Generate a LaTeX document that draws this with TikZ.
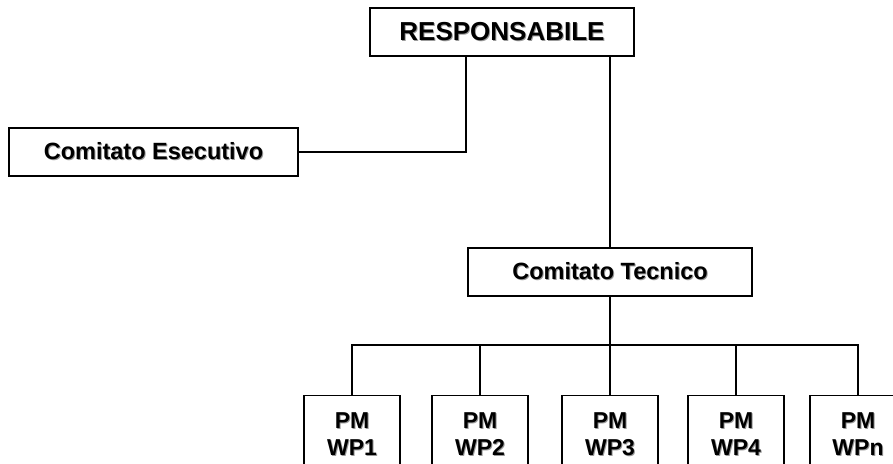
\documentclass[tikz,border=0pt]{standalone}
\usepackage{fontspec}
\setmainfont{Liberation Sans}
\usetikzlibrary{positioning}

\newcommand{\ombra}[1]{\makebox[0pt][l]{\hspace{1pt}\raisebox{-1pt}{\textcolor{black!40}{#1}}}#1}

\begin{document}
\begin{tikzpicture}[x=1pt,y=-1pt,line width=1.2pt,
	box/.style={draw,inner sep=0pt,minimum height=48pt,font=\bfseries\fontsize{23.5}{28}\selectfont},
	pmbox/.style={box,anchor=north,align=center,minimum width=96pt,inner xsep=0pt,inner ysep=17pt,font=\bfseries\fontsize{23}{27}\selectfont}]
	\clip (0,0) rectangle (893,463);
	\node[box,minimum width=264pt,font=\bfseries\fontsize{26}{30}\selectfont] (resp) at (502,32) {\ombra{RESPONSABILE}};
	\node[box,minimum width=289pt] (com_es) at (153.5,152) {\ombra{Comitato Esecutivo}};
	\node[box,minimum width=284pt] (com_tec) at (610,272) {\ombra{Comitato Tecnico}};
	\node[pmbox] (wp_1) at (352,395) {\ombra{PM}\\\ombra{WP1}};
	\node[pmbox] (wp_2) at (480,395) {\ombra{PM}\\\ombra{WP2}};
	\node[pmbox] (wp_3) at (610,395) {\ombra{PM}\\\ombra{WP3}};
	\node[pmbox] (wp_4) at (736,395) {\ombra{PM}\\\ombra{WP4}};
	\node[pmbox] (wp_n) at (858,395) {\ombra{PM}\\\ombra{WPn}};
	\coordinate (bus) at (610,345);
	\draw ([xshift=-36pt]resp.south) |- (com_es.east);
	\draw (com_tec.north) -- (com_tec.north |- resp.south);
	\draw (com_tec.south) -- (bus);
	\draw (wp_1.north) |- (bus) -| (wp_n.north);
	\draw (wp_2.north) -- (wp_2.north |- bus);
	\draw (wp_3.north) -- (bus);
	\draw (wp_4.north) -- (wp_4.north |- bus);
\end{tikzpicture}
\end{document}
